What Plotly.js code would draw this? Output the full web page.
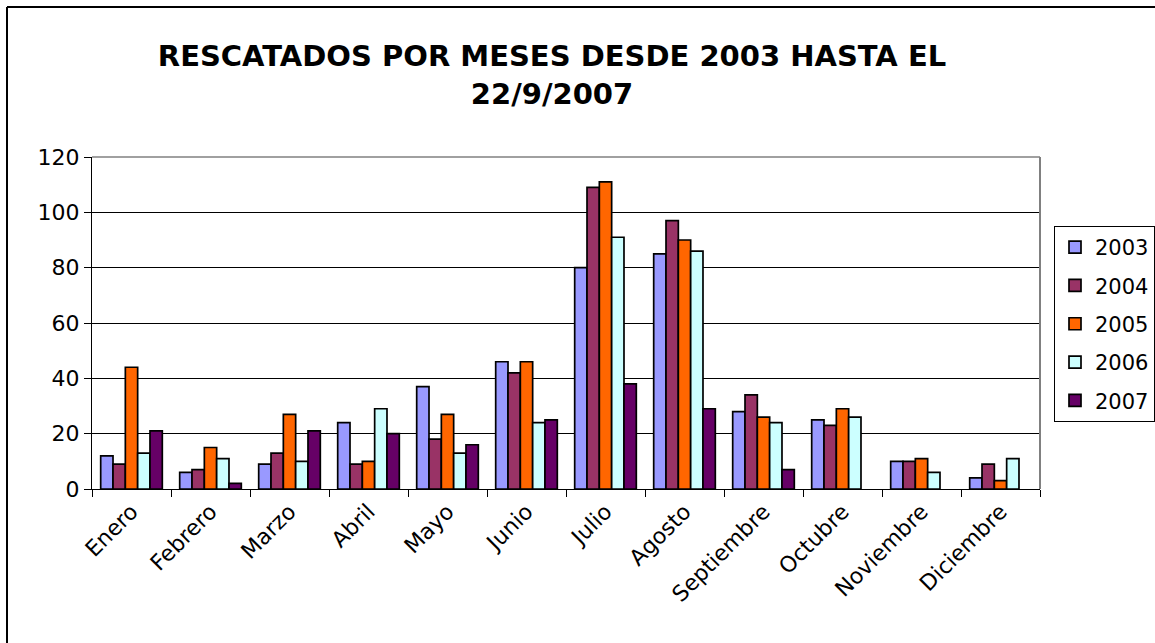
<!DOCTYPE html>
<html>
<head>
<meta charset="utf-8">
<script src="https://cdn.plot.ly/plotly-3.0.1.min.js"></script>
<style>
  html, body { margin: 0; padding: 0; background: #fff; }
  #chart { width: 1155px; height: 643px; }
</style>
</head>
<body>
<div id="chart"></div>
<script>
const months = ["Enero", "Febrero", "Marzo", "Abril", "Mayo", "Junio", "Julio", "Agosto", "Septiembre", "Octubre", "Noviembre", "Diciembre"];
const years = ["2003", "2004", "2005", "2006", "2007"];
const v2003 = [12, 6, 9, 24, 37, 46, 80, 85, 28, 25, 10, 4];
const v2004 = [9, 7, 13, 9, 18, 42, 109, 97, 34, 23, 10, 9];
const v2005 = [44, 15, 27, 10, 27, 46, 111, 90, 26, 29, 11, 3];
const v2006 = [13, 11, 10, 29, 13, 24, 91, 86, 24, 26, 6, 11];
const v2007 = [21, 2, 21, 20, 16, 25, 38, 29, 7, null, null, null];
const yTicks = [0, 20, 40, 60, 80, 100, 120];

const seriesValues = [v2003, v2004, v2005, v2006, v2007];
const colors = ["#9999FF", "#993366", "#FF6600", "#CCFFFF", "#660066"];

const FONT = "DejaVu Sans, Verdana, sans-serif";

const traces = years.map((yr, i) => ({
  type: "bar",
  name: yr,
  x: months,
  y: seriesValues[i],
  legendgroup: yr,
  marker: { color: colors[i], line: { color: "#000", width: 1.7 } },
  hoverinfo: "x+y+name"
}));

const L = 92, R = 1040, T = 157, B = 489;
const W = R - L, H = B - T;
const px = v => (v - L) / W;
const py = v => (B - v) / H;

const layout = {
  width: 1155,
  height: 643,
  paper_bgcolor: "#fff",
  plot_bgcolor: "#fff",
  margin: { l: L, r: 1155 - R, t: T, b: 643 - B, pad: 0, autoexpand: false },
  font: { family: FONT, size: 22, color: "#000" },
  title: {
    text: "<b>RESCATADOS POR MESES DESDE 2003 HASTA EL<br>22/9/2007</b>",
    font: { family: FONT, size: 29, color: "#000" },
    xref: "container", yref: "container",
    x: 552 / 1155, xanchor: "center",
    y: 1 - 66 / 643, yanchor: "top"
  },
  barmode: "group",
  bargap: 0.22,
  bargroupgap: 0,
  xaxis: {
    type: "category",
    tickangle: -45,
    ticks: "outside",
    tickson: "boundaries",
    ticklen: 7,
    tickcolor: "#000",
    showline: true,
    linecolor: "#000",
    linewidth: 1,
    showgrid: false,
    automargin: false,
    tickfont: { family: FONT, size: 22, color: "#000" },
    fixedrange: true
  },
  yaxis: {
    range: [0, 120],
    tickvals: yTicks,
    ticktext: yTicks.map(String),
    ticks: "outside",
    ticklen: 7,
    tickcolor: "#000",
    showline: true,
    linecolor: "#000",
    linewidth: 1,
    showgrid: true,
    gridcolor: "#000",
    gridwidth: 1,
    zeroline: false,
    automargin: false,
    tickfont: { family: FONT, size: 22, color: "#000" },
    fixedrange: true
  },
  showlegend: true,
  legend: {
    x: px(1054), xanchor: "left",
    y: py(226), yanchor: "top",
    bordercolor: "#000",
    borderwidth: 1,
    bgcolor: "#fff",
    font: { family: FONT, size: 21, color: "#000" },
    traceorder: "grouped",
    tracegroupgap: 8,
    itemwidth: 30
  },
  shapes: [
    {
      type: "line", xref: "paper", yref: "paper",
      x0: px(7), x1: px(1220), y0: py(7), y1: py(7),
      line: { color: "#000", width: 2 }
    },
    {
      type: "line", xref: "paper", yref: "paper",
      x0: px(7), x1: px(7), y0: py(7), y1: py(700),
      line: { color: "#000", width: 2 }
    },
    {
      type: "line", xref: "paper", yref: "paper",
      x0: 1, x1: 1, y0: 0, y1: 1,
      line: { color: "#808080", width: 2 }
    },
    {
      type: "line", xref: "paper", yref: "paper",
      x0: 0, x1: 1, y0: 1, y1: 1,
      line: { color: "#808080", width: 1.5 }
    }
  ]
};

Plotly.newPlot("chart", traces, layout, { displayModeBar: false, staticPlot: true });
</script>
</body>
</html>
